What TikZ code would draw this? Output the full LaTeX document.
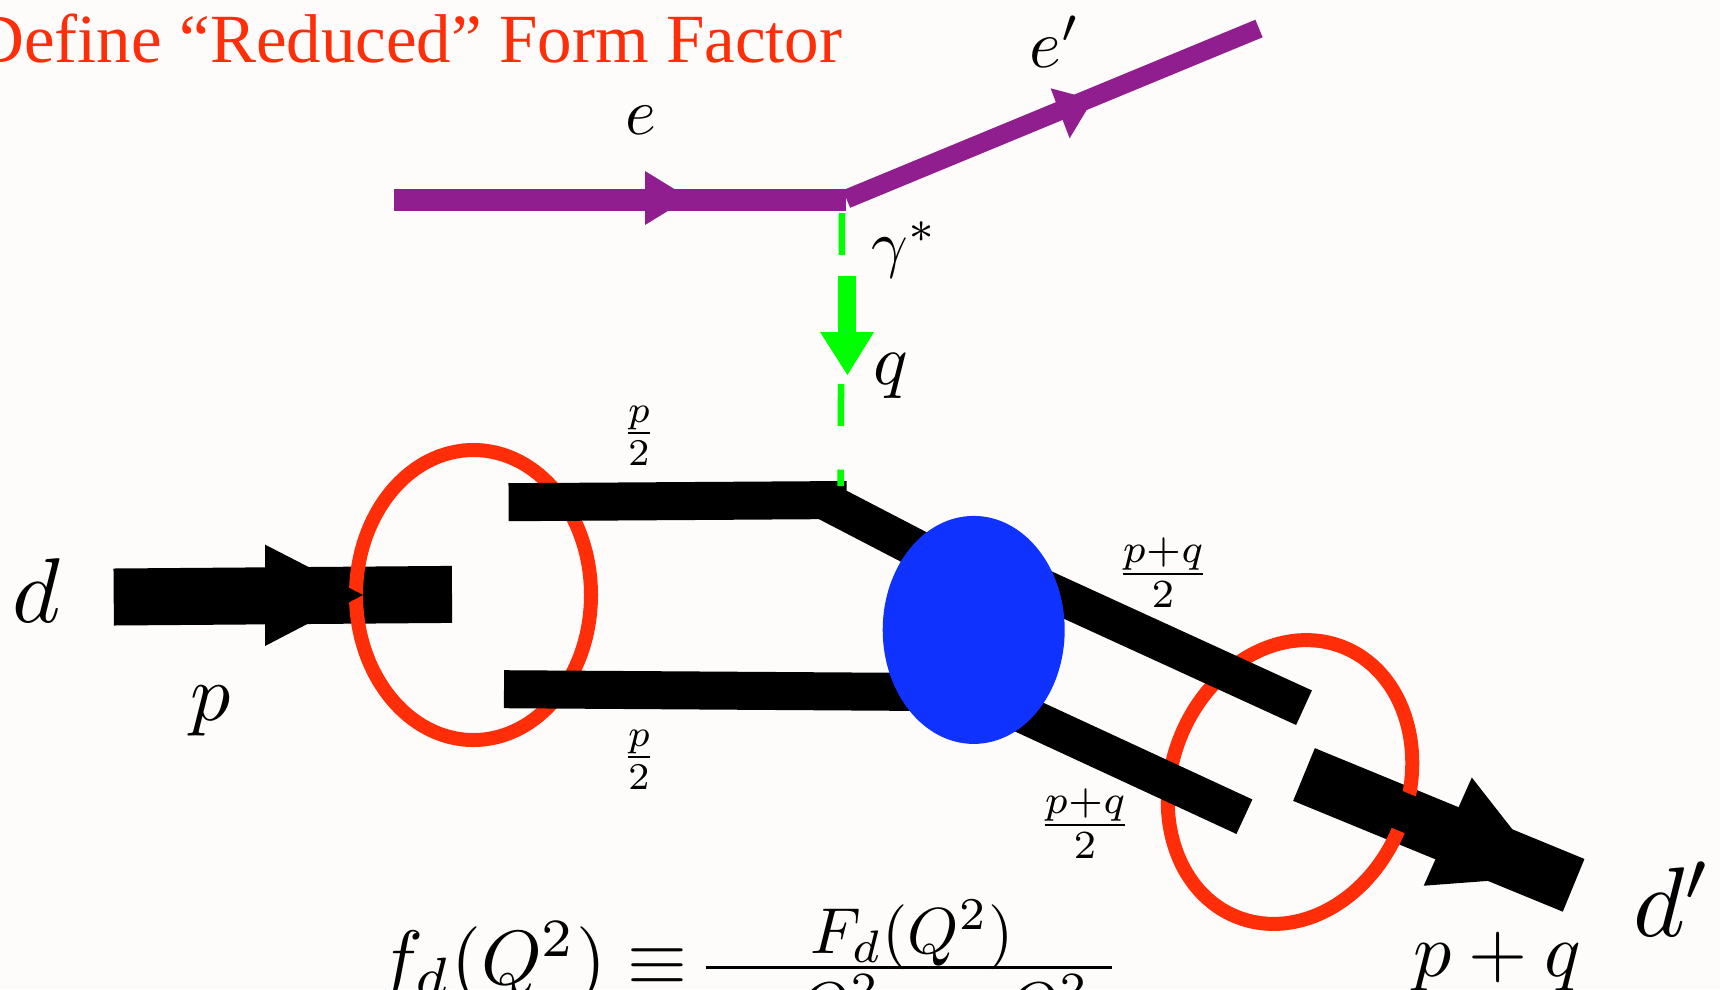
\documentclass[tikz,border=0pt]{standalone}
\usepackage{fontspec}
\setmainfont{Liberation Serif}
\usepackage{amsmath,amssymb}
\usetikzlibrary{shapes.geometric}
\definecolor{paper}{HTML}{FDFCFB}
\definecolor{ringred}{HTML}{FF2D08}
\definecolor{leptonpurple}{HTML}{901E8E}
\definecolor{blobblue}{HTML}{0F32FF}
\definecolor{photongreen}{HTML}{00FF00}

\begin{document}
\begin{tikzpicture}[x=1pt,y=-1pt,
quark/.style={line width=38pt,black},
hadron/.style={line width=57pt,black},
lepton/.style={leptonpurple},
ring/.style={draw=ringred,line width=14pt,ellipse,inner sep=0pt,outer sep=0pt},
lab/.style={inner sep=0pt,scale=#1/10},lab/.default=80]
\useasboundingbox[fill=paper] (0,0) rectangle (1720,989);
% lepton line
\coordinate (ein) at (393.9,200);
\coordinate (ehit) at (845.8,200);
\coordinate (vtx) at (846.5,199);
\coordinate (eout) at (1259,28.5);
\draw[lepton,line width=21.5pt] (ein)--(ehit);
\draw[lepton,line width=19pt] (vtx)--(eout);
\fill[lepton] (645,171)--(689,198)--(645,225)--cycle;
\fill[lepton] (1050.6,88.3)--(1092.9,99.6)--(1069.6,138.3)--cycle;
% deuteron in
\coordinate (din) at (113.7,597);
\coordinate (dend) at (452,594.4);
\draw[hadron] (din)--(dend);
\node[ring,minimum width=235pt,minimum height=290pt] (ringin) at (473.5,595) {};
\fill (265,544.6)--(363,595)--(265,646)--cycle;
% deuteron out, under the second ring
\coordinate (dstart) at (1304,774.5);
\coordinate (dout) at (1573.6,885.3);
\draw[hadron] (dstart)--(dout);
\node[ring,rotate=-21,minimum width=237pt,minimum height=290pt] (ringout) at (1290,782) {};
\draw[quark] (1385,804.4)--(1422,819.6);
\fill (1471.8,777.5)--(1549,876.3)--(1423.7,885.7)--cycle;
% quark lines
\coordinate (ua) at (508.6,502.2);
\coordinate (ub) at (846.7,500);
\coordinate (uc) at (826,501.4);
\coordinate (ud) at (960,571);
\coordinate (ue) at (1000,568.6);
\coordinate (uf) at (1304,707.7);
\coordinate (la) at (504,689.2);
\coordinate (lb) at (930,692);
\coordinate (lc) at (1000,703.6);
\coordinate (lf) at (1244.4,816.7);
\draw[quark] (ua)--(ub);
\draw[quark] (uc)--(ud);
\draw[quark] (ue)--(uf);
\draw[quark] (la)--(lb);
\draw[quark] (lc)--(lf);
\node[fill=blobblue,ellipse,inner sep=0pt,minimum width=182pt,minimum height=228pt] (blob) at (973.7,629.9) {};
% photon
\coordinate (gtop) at (842,213);
\coordinate (gend) at (840.5,486);
\draw[photongreen,line width=6.5pt,dash pattern=on 42pt off 43.5pt] (gtop)--(gend);
\coordinate (qa) at (846.6,276);
\coordinate (qb) at (846.6,333);
\draw[photongreen,line width=18pt] (qa)--(qb);
\fill[photongreen] (820,332)--(874,332)--(847.4,375)--cycle;
% labels
\node[lab=69,text=ringred,anchor=base west] (title) at (-27,62) {Define “Reduced” Form Factor};
\node[lab=66] (le) at (641,120) {$e$};
\node[lab=68] (lep) at (1055,42) {$e'$};
\node[lab=64] (lgam) at (905,250) {$\gamma^*$};
\node[lab=72] (lq) at (891,376) {$q$};
\node[lab=92] (ld) at (36,591) {$d$};
\node[lab=80] (lp) at (211,711) {$p$};
\node[lab=54] (lp1) at (639,436) {$\frac{p}{2}$};
\node[lab=54] (lp2) at (639,760) {$\frac{p}{2}$};
\node[lab=57] (lpq1) at (1163,573) {$\frac{p+q}{2}$};
\node[lab=57] (lpq2) at (1085,824) {$\frac{p+q}{2}$};
\node[lab=76] (lpq) at (1497,962) {$p+q$};
\node[lab=99] (ldp) at (1673,899) {$d'$};
% form factor ratio, cut by the page edge
\coordinate (fraca) at (706,967);
\coordinate (fracb) at (1112,967);
\draw[line width=3pt] (fraca)--(fracb);
\node[lab=77,anchor=base west] (lhs) at (376,984) {$f_d(Q^2)\equiv$};
\node[lab=65,anchor=base west] (numer) at (809,953) {$F_d(Q^2)$};
\node[lab=66,anchor=base west] (dena) at (797,1028) {$Q^2$};
\node[lab=66,anchor=base west] (denb) at (1006,1028) {$Q^2$};
\end{tikzpicture}
\end{document}
